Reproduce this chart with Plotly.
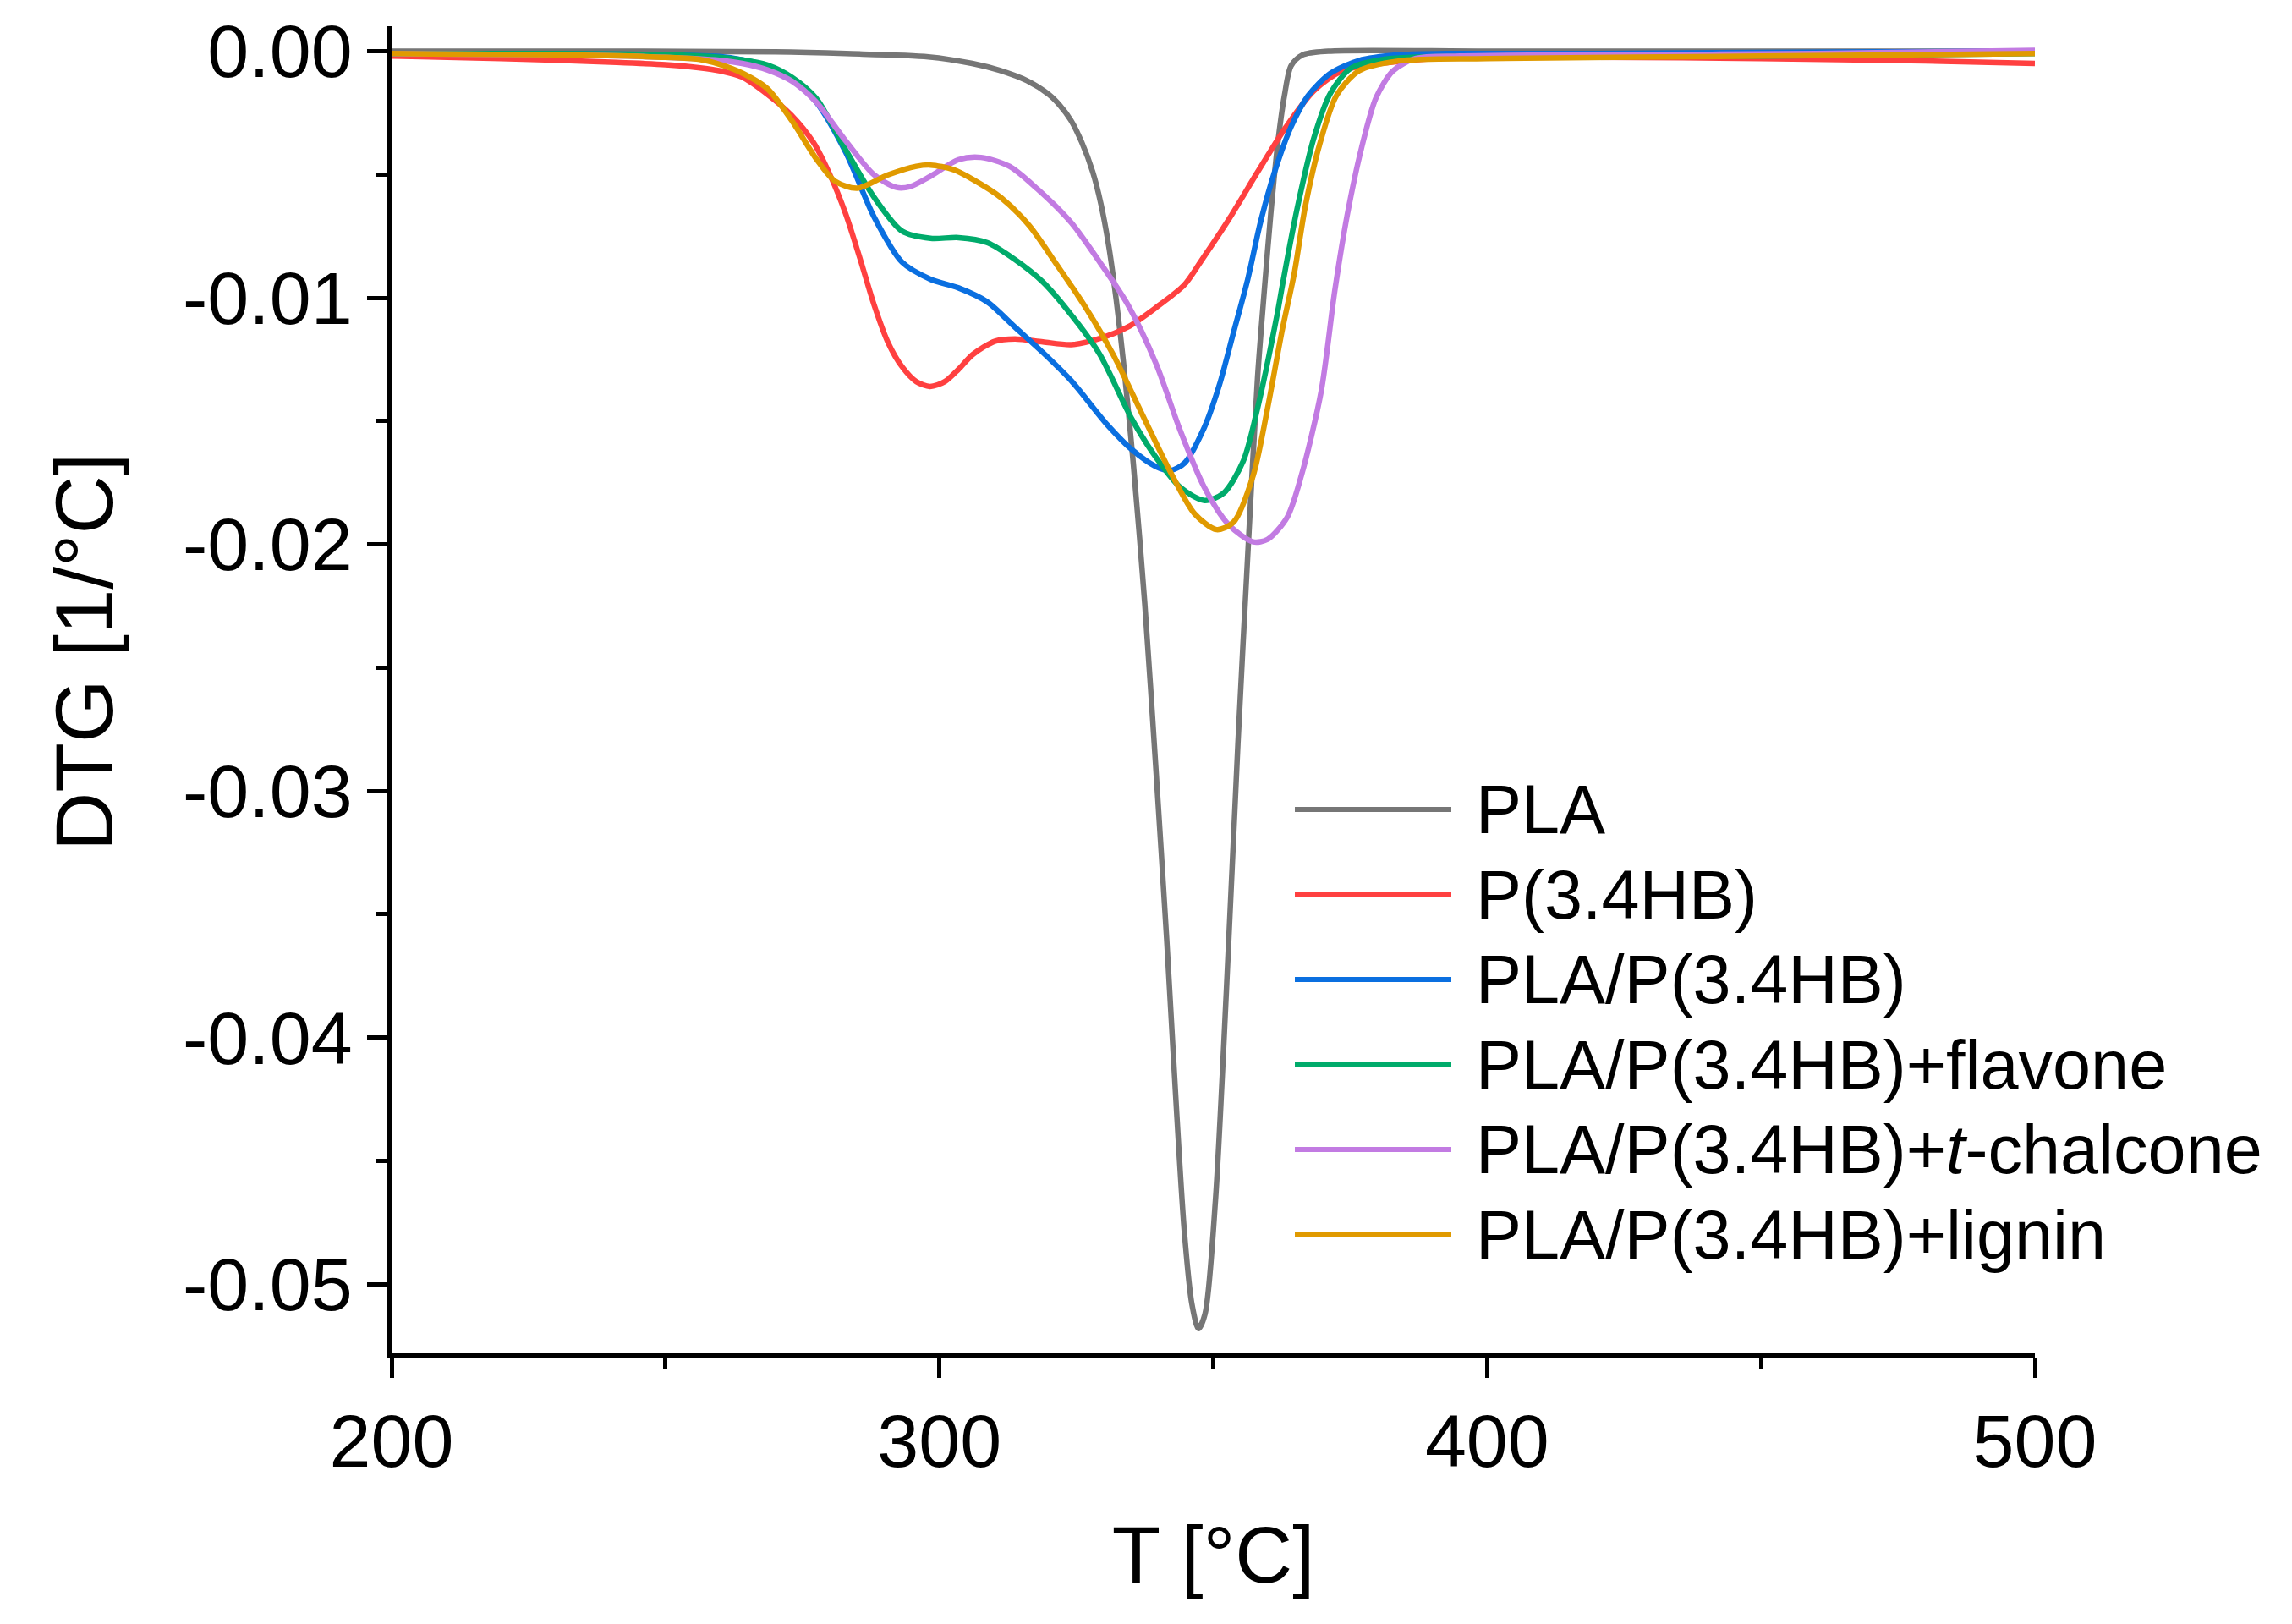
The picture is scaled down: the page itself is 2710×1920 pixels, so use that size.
import plotly.graph_objects as go

# ---------------- data ----------------
series_names = ["PLA", "P(3.4HB)", "PLA/P(3.4HB)", "PLA/P(3.4HB)+flavone",
                "PLA/P(3.4HB)+<i>t</i>-chalcone", "PLA/P(3.4HB)+lignin"]
series_colors = ["#767676", "#FF4040", "#0A6FE0", "#00AB6B", "#C27BE2", "#E09A00"]

pla_T = [200, 240, 270, 283, 298, 306, 311, 316, 320, 322, 324, 326, 328, 329.5, 331, 332.3,
         333.6, 335.4, 337.5, 339.5, 341.5, 343.1, 344.7, 346.1, 347.3, 348.5, 350.4, 352.4,
         354.5, 356.5, 358.1, 359.4, 360.5, 361.7, 363, 364.2, 366.3, 371, 400, 450, 500]
pla_dtg = [0, 0, -0.00003, -0.0001, -0.00023, -0.0005, -0.00078, -0.0012, -0.00176, -0.0022,
           -0.0028, -0.0037, -0.0049, -0.0062, -0.0080, -0.0101, -0.0126, -0.0167, -0.0224,
           -0.0290, -0.0360, -0.0422, -0.0478, -0.0508, -0.0518, -0.0512, -0.0466, -0.0381,
           -0.0281, -0.0196, -0.0132, -0.0095, -0.0066, -0.0039, -0.0018, -0.0006, -0.00015,
           0, 0, 0, 0]

p34hb_T = [200, 220, 240, 250, 256, 260, 264, 268.6, 273, 277, 280, 282.9, 285.5, 288.1,
           290.6, 293.2, 295.8, 298.3, 301, 303.5, 306.1, 310.2, 313.8, 318.9, 324.1, 329.3,
           334.4, 339.6, 344.7, 347.8, 352.9, 358.1, 363.2, 368.4, 373.5, 378.7, 390, 400, 420,
           450, 480, 500]
p34hb_dtg = [-0.0002, -0.0003, -0.00045, -0.00055, -0.00067, -0.0008, -0.00105, -0.00175,
             -0.0026, -0.0037, -0.0050, -0.0066, -0.0084, -0.0103, -0.0118, -0.0128, -0.0134,
             -0.0136, -0.0134, -0.0129, -0.0123, -0.01176, -0.01167, -0.01179, -0.0119,
             -0.01165, -0.01119, -0.01039, -0.00948, -0.0085, -0.0068, -0.0049, -0.0031,
             -0.0016, -0.0008, -0.00056, -0.0003, -0.00025, -0.00025, -0.0003, -0.0004, -0.0005]

blend_T = [200, 230, 250, 259.8, 264, 268.6, 273.1, 277.5, 282.9, 288.1, 293.2, 298.4, 303.5,
           308.7, 313.8, 318.9, 324.1, 330.7, 335.1, 339.5, 342.2, 344.8, 348.4, 351.1, 353.7,
           356.3, 358.6, 361.2, 364.2, 367.3, 371.4, 376.6, 383.8, 392.7, 420, 450, 500]
blend_dtg = [-0.0001, -0.0001, -0.00015, -0.00022, -0.00035, -0.0006, -0.00114, -0.00206,
             -0.0041, -0.00673, -0.00856, -0.00925, -0.0096, -0.01016, -0.01119, -0.01222,
             -0.01337, -0.01516, -0.01615, -0.01684, -0.0170, -0.01669, -0.01524, -0.01355,
             -0.01141, -0.00925, -0.00696, -0.0049, -0.00307, -0.00181, -0.0009, -0.00038,
             -0.00015, -0.0001, -0.0001, -0.00005, 0.0]

flavone_T = [200, 230, 250, 259.8, 264, 268.6, 273.1, 277.5, 282.9, 288.1, 293.2, 298.4, 303.5,
             308.7, 313.8, 318.9, 324.1, 329.3, 335.1, 339.5, 344, 348.4, 351.9, 355.5, 358.1,
             361.7, 362.7, 365.3, 368.4, 371.4, 375.1, 381.3, 400, 450, 500]
flavone_dtg = [-0.0001, -0.0001, -0.00015, -0.00025, -0.00035, -0.00056, -0.00106, -0.00191,
               -0.0040, -0.00593, -0.0073, -0.00759, -0.00756, -0.00776, -0.00845, -0.00936,
               -0.0107, -0.0123, -0.0149, -0.01646, -0.01769, -0.01822, -0.01792, -0.01661,
               -0.01447, -0.01064, -0.0094, -0.0064, -0.0035, -0.0017, -0.0007, -0.00033,
               -0.0002, -0.0002, -0.0001]

chalcone_T = [200, 230, 250, 259.8, 264, 268.6, 273.1, 277.5, 282.9, 288.1, 292.2, 294.7,
              298.4, 303.5, 307.6, 312.8, 317.9, 324.1, 329.3, 334.4, 339.6, 344, 348.4, 352.8,
              357.3, 359.9, 363.5, 366.1, 369.7, 372.2, 374.5, 377.1, 379.7, 382.8, 386.9, 395,
              420, 460, 500]
chalcone_dtg = [-0.0001, -0.00015, -0.00025, -0.00037, -0.0005, -0.00076, -0.00122, -0.00206,
                -0.00364, -0.00502, -0.00553, -0.00549, -0.00507, -0.0044, -0.00431, -0.00467,
                -0.00559, -0.00696, -0.00856, -0.01028, -0.0127, -0.0154, -0.0177, -0.0192,
                -0.0199, -0.0198, -0.0189, -0.0172, -0.0138, -0.0097, -0.0066, -0.0039, -0.0019,
                -0.0008, -0.0003, -0.0002, -0.00015, -0.0001, 0.00003]

lignin_T = [200, 230, 250, 256, 259.8, 264.2, 268.6, 273.1, 277.5, 281, 285, 290.6, 295.8,
            298.4, 302.5, 306.1, 311.2, 316.4, 321.5, 326.7, 331.8, 337.8, 342.2, 346.6, 350.6,
            353.7, 357.3, 359.9, 362.6, 364.8, 366.8, 369.4, 372.5, 376.6, 383.8, 400, 450, 500]
lignin_dtg = [-0.0001, -0.00015, -0.00025, -0.00033, -0.00053, -0.00091, -0.00152, -0.00283,
              -0.00436, -0.00528, -0.00556, -0.00502, -0.00467, -0.00462, -0.0048, -0.0052,
              -0.00593, -0.00707, -0.00868, -0.01039, -0.01233, -0.01508, -0.01707, -0.01876,
              -0.0194, -0.0191, -0.0172, -0.0145, -0.0113, -0.0090, -0.0063, -0.0038, -0.0018,
              -0.0008, -0.0004, -0.0003, -0.0002, -0.0001]

x_tickvals = [200, 300, 400, 500]
x_ticktext = ["200", "300", "400", "500"]
y_tickvals = [0.0, -0.01, -0.02, -0.03, -0.04, -0.05]
y_ticktext = ["0.00", "-0.01", "-0.02", "-0.03", "-0.04", "-0.05"]
y_minor_vals = [-0.005, -0.015, -0.025, -0.035, -0.045]
x_title = "T [°C]"
y_title = "DTG [1/°C]"

# ---------------- figure ----------------
W, H = 2710, 1920
L, R, T_, B = 463, 304, 31, 320
FONT = "Arial, Liberation Sans, sans-serif"

all_T = [pla_T, p34hb_T, blend_T, flavone_T, chalcone_T, lignin_T]
all_v = [pla_dtg, p34hb_dtg, blend_dtg, flavone_dtg, chalcone_dtg, lignin_dtg]

fig = go.Figure()
for name, col, xs, ys in zip(series_names, series_colors, all_T, all_v):
    fig.add_trace(go.Scatter(x=xs, y=ys, mode="lines", name=name,
                             line=dict(color=col, width=6.5, shape="spline", smoothing=0.8),
                             showlegend=False))

axis_common = dict(showline=True, linecolor="black", linewidth=5.5, ticks="outside",
                   ticklen=23, tickwidth=5, tickcolor="black", showgrid=False,
                   zeroline=False, mirror=False,
                   tickfont=dict(family=FONT, size=88, color="black"))

fig.update_xaxes(range=[200, 500], tickmode="array", tickvals=x_tickvals, ticktext=x_ticktext,
                 minor=dict(dtick=50, tick0=200, ticks="outside", ticklen=12, tickwidth=5,
                            tickcolor="black", showgrid=False),
                 title=dict(text=x_title, font=dict(family=FONT, size=94, color="black"),
                            standoff=55),
                 **axis_common)
fig.update_yaxes(range=[-0.0528, 0.00101], tickmode="array", tickvals=y_tickvals,
                 ticktext=y_ticktext,
                 minor=dict(tickmode="array", tickvals=y_minor_vals, ticks="outside",
                            ticklen=12, tickwidth=5, tickcolor="black", showgrid=False),
                 **axis_common)

plot_w = W - L - R
plot_h = H - T_ - B
def px2paper_x(px):
    return (px - L) / plot_w
def px2paper_y(py):
    return (H - B - py) / plot_h

annots = []
# y-axis title (placed like the reference, slightly above the axis centre)
annots.append(dict(xref="paper", yref="paper", x=px2paper_x(99), y=px2paper_y(771),
                   xanchor="center", yanchor="middle", textangle=-90, text=y_title,
                   showarrow=False, font=dict(family=FONT, size=96, color="black")))

# custom legend (long line samples, as in the reference)
leg_x0, leg_x1, leg_tx = 1531, 1716, 1743
leg_y0, leg_dy = 957, 100.5
shapes = []
for i, (name, col) in enumerate(zip(series_names, series_colors)):
    yy = px2paper_y(leg_y0 + i * leg_dy)
    shapes.append(dict(type="line", xref="paper", yref="paper",
                       x0=px2paper_x(leg_x0), x1=px2paper_x(leg_x1), y0=yy, y1=yy,
                       line=dict(color=col, width=6)))
    annots.append(dict(xref="paper", yref="paper", x=px2paper_x(leg_tx), y=yy,
                       xanchor="left", yanchor="middle", text=name, showarrow=False,
                       font=dict(family=FONT, size=81, color="black")))

fig.update_layout(width=W, height=H, autosize=False,
                  margin=dict(l=L, r=R, t=T_, b=B, pad=0),
                  paper_bgcolor="white", plot_bgcolor="white",
                  shapes=shapes, annotations=annots, showlegend=False,
                  font=dict(family=FONT, color="black"))

fig.write_html("out.html")
